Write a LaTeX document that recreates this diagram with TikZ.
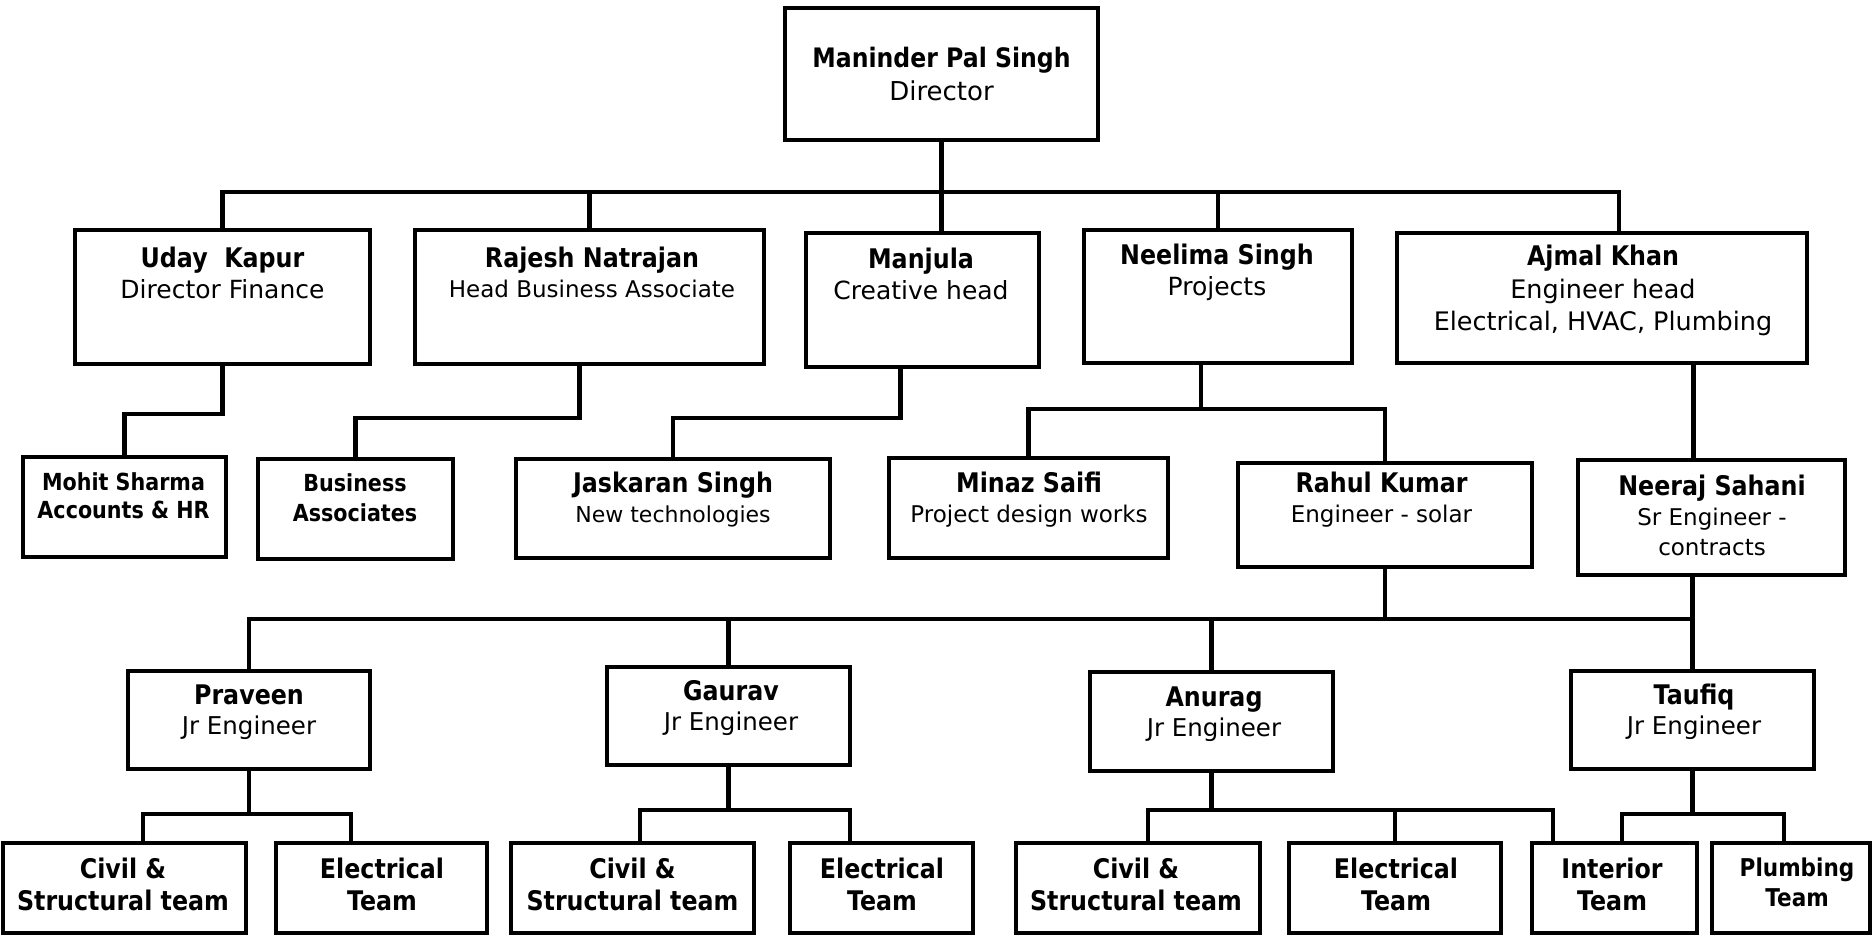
\documentclass[tikz,border=0pt]{standalone}
\usepackage{fontspec}
\setmainfont{DejaVu Sans}[BoldFeatures={FakeStretch=0.88}]

\newcommand{\hd}[2]{{\fontsize{#1}{#1}\selectfont\bfseries #2}}

\begin{document}
\begin{tikzpicture}[x=1pt, y=-1pt,
  box/.style={rectangle, draw, line width=4pt, inner sep=0pt},
  lbl/.style={align=center, inner sep=0pt},
  link/.style={line width=4.5pt},
  fa/.style={font=\fontsize{25}{31}\selectfont},
  fb/.style={font=\fontsize{23}{30}\selectfont},
  fc/.style={font=\fontsize{24.5}{30}\selectfont},
  fd/.style={font=\fontsize{27}{32}\selectfont\bfseries}
]
  \useasboundingbox (0,0) rectangle (1874,935);

  % Director
  \node[box, minimum width=313pt, minimum height=132pt, align=center, font=\fontsize{26}{33}\selectfont] (director) at (941.5,74) {\hd{26.8}{Maninder Pal Singh}\\Director};

  % Heads
  \node[box, minimum width=295pt, minimum height=134pt] (uday) at (222.5,297) {};
  \node[lbl, fa] (uday-t) at (222.5,272.5) {\hd{27}{Uday\ \ Kapur}\\Director Finance};
  \node[box, minimum width=349pt, minimum height=134pt] (rajesh) at (589.5,297) {};
  \node[lbl, fb] (rajesh-t) at (592,272) {\hd{27}{Rajesh Natrajan}\\Head Business Associate};
  \node[box, minimum width=233pt, minimum height=134pt] (manjula) at (922.5,300) {};
  \node[lbl, fa] (manjula-t) at (921,274) {\hd{27}{Manjula}\\Creative head};
  \node[box, minimum width=268pt, minimum height=133pt] (neelima) at (1218,296.5) {};
  \node[lbl, fa] (neelima-t) at (1217,272.5) {\hd{27}{Neelima Singh}\\Projects};
  \node[box, minimum width=410pt, minimum height=130pt] (ajmal) at (1602,298) {};
  \node[lbl, font=\fontsize{25.5}{32.5}\selectfont] (ajmal-t) at (1603,290.5) {\hd{27}{Ajmal Khan}\\Engineer head\\Electrical, HVAC, Plumbing};

  % Staff
  \node[box, minimum width=203pt, minimum height=100pt] (mohit) at (124.5,507) {};
  \node[lbl, font=\fontsize{23.5}{28}\selectfont\bfseries] (mohit-t) at (123.5,496) {Mohit Sharma\\Accounts \& HR};
  \node[box, minimum width=195pt, minimum height=100pt] (busassoc) at (355.5,509) {};
  \node[lbl, font=\fontsize{23.5}{30}\selectfont\bfseries] (busassoc-t) at (355,498) {Business\\Associates};
  \node[box, minimum width=314pt, minimum height=99pt] (jaskaran) at (673,508.5) {};
  \node[lbl, font=\fontsize{22}{30}\selectfont] (jaskaran-t) at (673,500) {\hd{27}{Jaskaran Singh}\\New technologies};
  \node[box, minimum width=279pt, minimum height=100pt] (minaz) at (1028.5,508) {};
  \node[lbl, fb] (minaz-t) at (1029,500) {\hd{27}{Minaz Saifi}\\Project design works};
  \node[box, minimum width=294pt, minimum height=104pt] (rahul) at (1385,515) {};
  \node[lbl, fb] (rahul-t) at (1381.5,500) {\hd{27}{Rahul Kumar}\\Engineer - solar};
  \node[box, minimum width=267pt, minimum height=115pt] (neeraj) at (1711.5,517.5) {};
  \node[lbl, fb] (neeraj-t) at (1712,515) {\hd{27}{Neeraj Sahani}\\Sr Engineer -\\contracts};

  % Junior engineers
  \node[box, minimum width=242pt, minimum height=98pt] (praveen) at (249,720) {};
  \node[lbl, fc] (praveen-t) at (249,712) {\hd{27}{Praveen}\\Jr Engineer};
  \node[box, minimum width=243pt, minimum height=98pt] (gaurav) at (728.5,716) {};
  \node[lbl, fc] (gaurav-t) at (731,708) {\hd{27}{Gaurav}\\Jr Engineer};
  \node[box, minimum width=243pt, minimum height=99pt] (anurag) at (1211.5,721.5) {};
  \node[lbl, fc] (anurag-t) at (1214,714) {\hd{27}{Anurag}\\Jr Engineer};
  \node[box, minimum width=243pt, minimum height=98pt] (taufiq) at (1692.5,720) {};
  \node[lbl, fc] (taufiq-t) at (1694,712) {\hd{27}{Taufiq}\\Jr Engineer};

  % Teams
  \node[box, minimum width=243pt, minimum height=90pt] (civa) at (124.5,888) {};
  \node[lbl, fd] (civa-t) at (123,884) {Civil \&\\Structural team};
  \node[box, minimum width=211pt, minimum height=90pt] (elea) at (381.5,888) {};
  \node[lbl, fd] (elea-t) at (382,884) {Electrical\\Team};
  \node[box, minimum width=243pt, minimum height=90pt] (civb) at (632.5,888) {};
  \node[lbl, fd] (civb-t) at (632.5,884) {Civil \&\\Structural team};
  \node[box, minimum width=183pt, minimum height=90pt] (eleb) at (881.5,888) {};
  \node[lbl, fd] (eleb-t) at (882,884) {Electrical\\Team};
  \node[box, minimum width=244pt, minimum height=90pt] (civc) at (1138,888) {};
  \node[lbl, fd] (civc-t) at (1136,884) {Civil \&\\Structural team};
  \node[box, minimum width=212pt, minimum height=90pt] (elec) at (1395,888) {};
  \node[lbl, fd] (elec-t) at (1396,884) {Electrical\\Team};
  \node[box, minimum width=165pt, minimum height=90pt] (interior) at (1614.5,888) {};
  \node[lbl, fd] (interior-t) at (1612,884) {Interior\\Team};
  \node[box, minimum width=158pt, minimum height=90pt] (plumbing) at (1791,888) {};
  \node[lbl, font=\fontsize{24.5}{30}\selectfont\bfseries] (plumbing-t) at (1797,882) {Plumbing\\Team};

  % Director to heads
  \draw[link] (director.south) -- ++(0,50) coordinate (b1);
  \draw[link] (uday.north) |- (b1) -| ([xshift=17pt]ajmal.north);
  \draw[link] (rajesh.north) -- (rajesh.north |- b1);
  \draw[link] (b1) -- (b1 |- manjula.north);
  \draw[link] (neelima.north) -- (neelima.north |- b1);

  % Heads to staff
  \draw[link] (uday.south) -- ++(0,48) -| (mohit.north);
  \draw[link] ([xshift=-10pt]rajesh.south) -- ++(0,52) -| (busassoc.north);
  \draw[link] ([xshift=-22pt]manjula.south) -- ++(0,49) -| (jaskaran.north);
  \draw[link] ([xshift=-17pt]neelima.south) -- ++(0,44) coordinate (b2);
  \draw[link] (minaz.north) |- (b2) -| (rahul.north);
  \draw[link] ([xshift=-18pt]neeraj.north) -- ([xshift=-18pt]neeraj.north |- ajmal.south);

  % Staff to junior engineers
  \draw[link] (rahul.south) -- ++(0,50) coordinate (b3);
  \draw[link] (praveen.north) |- (b3) -| (taufiq.north);
  \draw[link] (gaurav.north) -- (gaurav.north |- b3);
  \draw[link] (anurag.north) -- (anurag.north |- b3);
  \draw[link] (neeraj.south -| taufiq.north) -- (taufiq.north);

  % Junior engineers to teams
  \draw[link] (praveen.south) -- ++(0,43) coordinate (b4);
  \draw[link] ([xshift=18.5pt]civa.north) |- (b4) -| ([xshift=-30.5pt]elea.north);
  \draw[link] (gaurav.south) -- ++(0,43) coordinate (b5);
  \draw[link] ([xshift=7.5pt]civb.north) |- (b5) -| ([xshift=-31.5pt]eleb.north);
  \draw[link] (anurag.south) -- ++(0,37) coordinate (b6);
  \draw[link] ([xshift=10pt]civc.north) |- (b6) -| ([xshift=-61.5pt]interior.north);
  \draw[link] (b6 -| elec.north) -- (elec.north);
  \draw[link] (taufiq.south) -- ++(0,43) coordinate (b7);
  \draw[link] ([xshift=7.5pt]interior.north) |- (b7) -| ([xshift=-7pt]plumbing.north);
\end{tikzpicture}
\end{document}
